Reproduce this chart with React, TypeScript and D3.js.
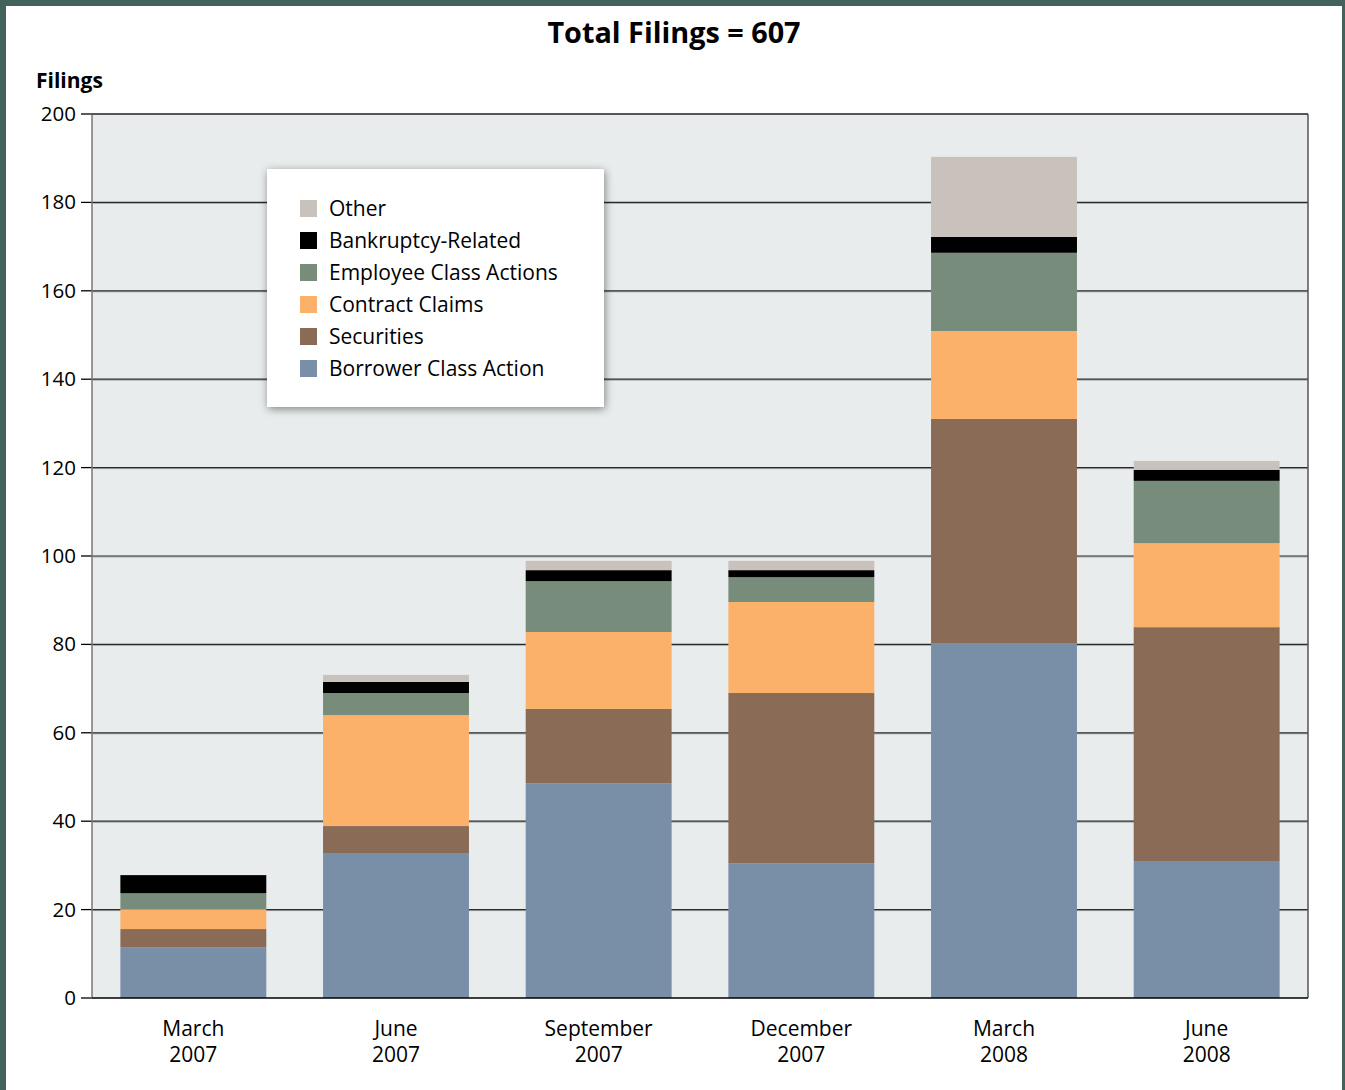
import * as d3 from "d3";

const quarters = ["March 2007", "June 2007", "September 2007", "December 2007", "March 2008", "June 2008"];
const seriesNames = ["Borrower Class Action", "Securities", "Contract Claims", "Employee Class Actions", "Bankruptcy-Related", "Other"];
const borrower = [11.5, 32.8, 48.6, 30.5, 80.3, 31.0];
const securities = [4.1, 6.1, 16.8, 38.5, 50.7, 52.9];
const contract = [4.5, 25.1, 17.4, 20.6, 19.9, 19.0];
const employee = [3.6, 5.0, 11.5, 5.6, 17.7, 14.1];
const bankruptcy = [4.1, 2.5, 2.5, 1.6, 3.6, 2.5];
const other = [0, 1.6, 2.1, 2.1, 18.1, 2.0];
const seriesColors = ["#788fa7", "#896b56", "#fbb16a", "#778c7b", "#000000", "#c9c1bc"];
const yTicks = [0, 20, 40, 60, 80, 100, 120, 140, 160, 180, 200];
const title = "Total Filings = 607";

const W = 1345, H = 1090;
const plot = { left: 92, right: 1308, top: 114, bottom: 998 };
const font = "'Open Sans', 'Noto Sans', sans-serif";

export default function App() {
  const rows = quarters.map((q, i) => ({
    q,
    [seriesNames[0]]: borrower[i],
    [seriesNames[1]]: securities[i],
    [seriesNames[2]]: contract[i],
    [seriesNames[3]]: employee[i],
    [seriesNames[4]]: bankruptcy[i],
    [seriesNames[5]]: other[i],
  }));
  const stacked = d3.stack<any>().keys(seriesNames)(rows);

  const x = d3.scaleBand().domain(quarters).range([plot.left, plot.right]).paddingInner(0.28).paddingOuter(0.14);
  const y = d3.scaleLinear().domain([0, 200]).range([plot.bottom, plot.top]);
  const color = d3.scaleOrdinal<string, string>().domain(seriesNames).range(seriesColors);

  const legendOrder = seriesNames.slice().reverse();

  return (
    <div style={{ position: "absolute", left: 0, top: 0 }}>
      <svg width={W} height={H} style={{ display: "block" }}>
        <defs>
          <filter id="shadow" x="-10%" y="-10%" width="130%" height="130%">
            <feDropShadow dx="1" dy="2" stdDeviation="4" floodColor="#000" floodOpacity="0.45" />
          </filter>
        </defs>
        <rect x={0} y={0} width={W} height={H} fill="#42625b" />
        <rect x={6} y={6} width={1336} height={H - 6} fill="#ffffff" />

        <text x={674} y={43} textAnchor="middle" fontFamily={font} fontWeight={700} fontSize={28.8} fill="#000">{title}</text>
        <text x={36} y={88} fontFamily={font} fontWeight={700} fontSize={21} fill="#000">Filings</text>

        <rect x={plot.left} y={plot.top} width={plot.right - plot.left} height={plot.bottom - plot.top} fill="#e8ecec" />

        {yTicks.map(t => (
          <g key={t}>
            {t > 0 && t < 200 && (
              <>
                <line x1={plot.left} x2={plot.right} y1={y(t) + 1} y2={y(t) + 1} stroke="#a8abab" strokeWidth={1} />
                <line x1={plot.left} x2={plot.right} y1={y(t)} y2={y(t)} stroke="#2a2a2a" strokeWidth={1.2} />
              </>
            )}
            <line x1={81} x2={plot.left} y1={y(t)} y2={y(t)} stroke="#000" strokeWidth={1.3} />
            <text x={76} y={y(t) + 7} textAnchor="end" fontFamily={font} fontSize={20.5} fill="#000">{t}</text>
          </g>
        ))}

        <line x1={plot.left} x2={plot.left} y1={plot.top} y2={plot.bottom} stroke="#777" strokeWidth={1.5} />
        <line x1={plot.right} x2={plot.right} y1={plot.top} y2={plot.bottom} stroke="#555" strokeWidth={1.5} />
        <line x1={plot.left} x2={plot.right} y1={plot.top} y2={plot.top} stroke="#222" strokeWidth={1.3} />

        {stacked.map(s => (
          <g key={s.key} fill={color(s.key)}>
            {s.map((d, i) => (
              <rect key={i} x={x(quarters[i])} width={x.bandwidth()} y={y(d[1])} height={Math.max(0, y(d[0]) - y(d[1]))} />
            ))}
          </g>
        ))}

        <line x1={plot.left} x2={plot.right} y1={plot.bottom} y2={plot.bottom} stroke="#000" strokeWidth={1.5} />

        {quarters.map(q => {
          const [m, yr] = q.split(" ");
          const cx = (x(q) as number) + x.bandwidth() / 2;
          return (
            <text key={q} x={cx} textAnchor="middle" fontFamily={font} fontSize={21} fill="#000">
              <tspan x={cx} y={1036}>{m}</tspan>
              <tspan x={cx} y={1062}>{yr}</tspan>
            </text>
          );
        })}

        <g>
          <rect x={267} y={169} width={337} height={238} fill="#fff" filter="url(#shadow)" />
          {legendOrder.map((k, i) => (
            <g key={k} transform={`translate(300, ${200 + i * 32})`}>
              <rect x={0} y={0} width={17} height={17} fill={color(k)} />
              <text x={29} y={16} fontFamily={font} fontSize={21} fill="#000">{k}</text>
            </g>
          ))}
        </g>
      </svg>
    </div>
  );
}
